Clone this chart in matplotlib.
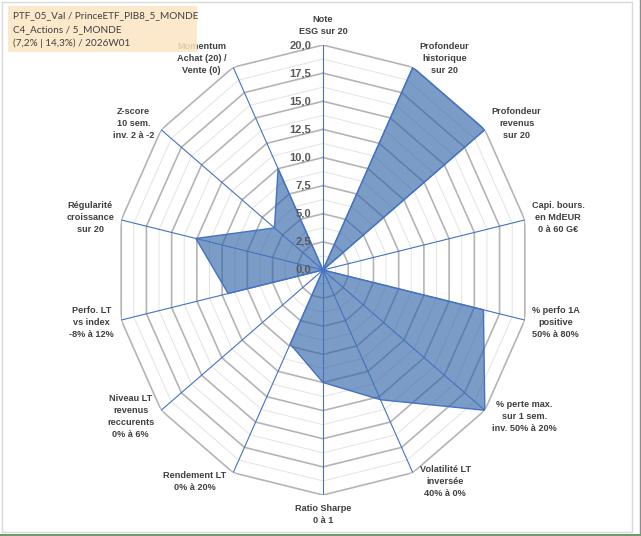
import numpy as np
import matplotlib
matplotlib.use("Agg")
import matplotlib.pyplot as plt
from matplotlib.patches import Rectangle
from matplotlib.lines import Line2D

# donnees
categories = ["Note\nESG sur 20",
              "Profondeur\nhistorique\nsur 20",
              "Profondeur\nrevenus\nsur 20",
              "Capi. bours.\nen MdEUR\n0 à 60 G€",
              "% perfo 1A\npositive\n50% à 80%",
              "% perte max.\nsur 1 sem.\ninv. 50% à 20%",
              "Volatilité LT\ninversée\n40% à 0%",
              "Ratio Sharpe\n0 à 1",
              "Rendement LT\n0% à 20%",
              "Niveau LT\nrevenus\nreccurents\n0% à 6%",
              "Perfo. LT\nvs index\n-8% à 12%",
              "Régularité\ncroissance\nsur 20",
              "Z-score\n10 sem.\ninv. 2 à -2",
              "Momentum\nAchat (20) /\nVente (0)"]
valeurs = [0, 20, 20, 0, 15.9, 20, 12.8, 10, 7.3, 0, 9.4, 12.6, 6.0, 10.0]
ticks = [0, 2.5, 5, 7.5, 10, 12.5, 15, 17.5, 20]
tick_labels = ["0,0", "2,5", "5,0", "7,5", "10,0", "12,5", "15,0", "17,5", "20,0"]
titre = ["PTF_05_Val / PrinceETF_PIB8_5_MONDE",
         "C4_Actions / 5_MONDE",
         "(7,2% | 14,3%) / 2026W01"]

W, H = 641, 536
fig = plt.figure(figsize=(W / 100, H / 100), dpi=100)
fig.patch.set_facecolor("white")

# axe polaire etire (le graphique Excel n'est pas rond)
cx, cy, rx, ry = 323, 270, 207, 225
ax = fig.add_axes([(cx - rx) / W, (H - cy - ry) / H, 2 * rx / W, 2 * ry / H],
                  projection="polar")
ax.set_aspect("auto")
ax.set_theta_zero_location("N")
ax.set_theta_direction(-1)
ax.set_ylim(0, 20)
ax.grid(False)
ax.spines["polar"].set_visible(False)
ax.set_xticks([])
ax.set_yticks([])
ax.patch.set_alpha(0)

n = len(categories)
angles = np.linspace(0, 2 * np.pi, n, endpoint=False)
ang_c = np.append(angles, angles[0])

# grilles polygonales
for r in np.arange(1.25, 20, 2.5):
    ax.plot(ang_c, [r] * (n + 1), color="#E3E3E3", lw=0.7, zorder=1)
for r in ticks[1:]:
    ax.plot(ang_c, [r] * (n + 1), color="#B4B4B4", lw=1.2, zorder=2)

# serie
val_c = valeurs + valeurs[:1]
ax.fill(ang_c, val_c, color="#2F64A6", alpha=0.64, lw=0, zorder=3)
ax.plot(ang_c, val_c, color="#4472C4", lw=1.0, zorder=4)

# rayons
for a in angles:
    ax.plot([a, a], [0, 20], color="#4472C4", lw=0.8, zorder=5)

# etiquettes radiales
for t, lab in zip(ticks, tick_labels):
    ax.annotate(lab, (0, t), xytext=(-8.5, 0), textcoords="offset points",
                ha="right", va="center", fontsize=8, fontweight="bold",
                color="#595959", family="Liberation Sans", zorder=6)

# etiquettes des categories
for a, lab in zip(angles, categories):
    s, c = np.sin(a), np.cos(a)
    if abs(s) < 0.01:
        ha = "center"
        va = "bottom" if c > 0 else "top"
        dx, dy = 0, 6.5 * np.sign(c)
    else:
        ha = "left" if s > 0 else "right"
        va = "center"
        dx, dy = 5 * np.sign(s), 7 * c
    ax.annotate(lab, (a, 20), xytext=(dx, dy), textcoords="offset points",
                ha=ha, va=va, multialignment="center", fontsize=6.6,
                fontweight="bold", color="#404040", family="Liberation Sans",
                linespacing=1.45, annotation_clip=False)

# cadre du titre (un peu transparent, par-dessus l'etiquette Momentum)
fig.patches.append(Rectangle((8 / W, 1 - 52 / H), 189 / W, 46 / H,
                             transform=fig.transFigure, facecolor="#FCE6C3",
                             edgecolor="none", alpha=0.85, zorder=10))
for i, ligne in enumerate(titre):
    fig.text(13 / W, 1 - (15.7 + 14 * i) / H, ligne, ha="left", va="center",
             fontsize=7.2, color="#404040", family="Lato", zorder=11)

# bordures
fig.patches.append(Rectangle((2 / W, 1 - 532 / H), 630 / W, 530 / H,
                             transform=fig.transFigure, facecolor="none",
                             edgecolor="#D9D9D9", lw=1))
fig.lines.append(Line2D([639.5 / W, 639.5 / W], [0, 1], transform=fig.transFigure,
                        color="#8C8C8C", lw=1))
fig.lines.append(Line2D([0, 1], [1.2 / H, 1.2 / H], transform=fig.transFigure,
                        color="#6E9A6E", lw=1.5))

fig.savefig("out.png", dpi=100)
